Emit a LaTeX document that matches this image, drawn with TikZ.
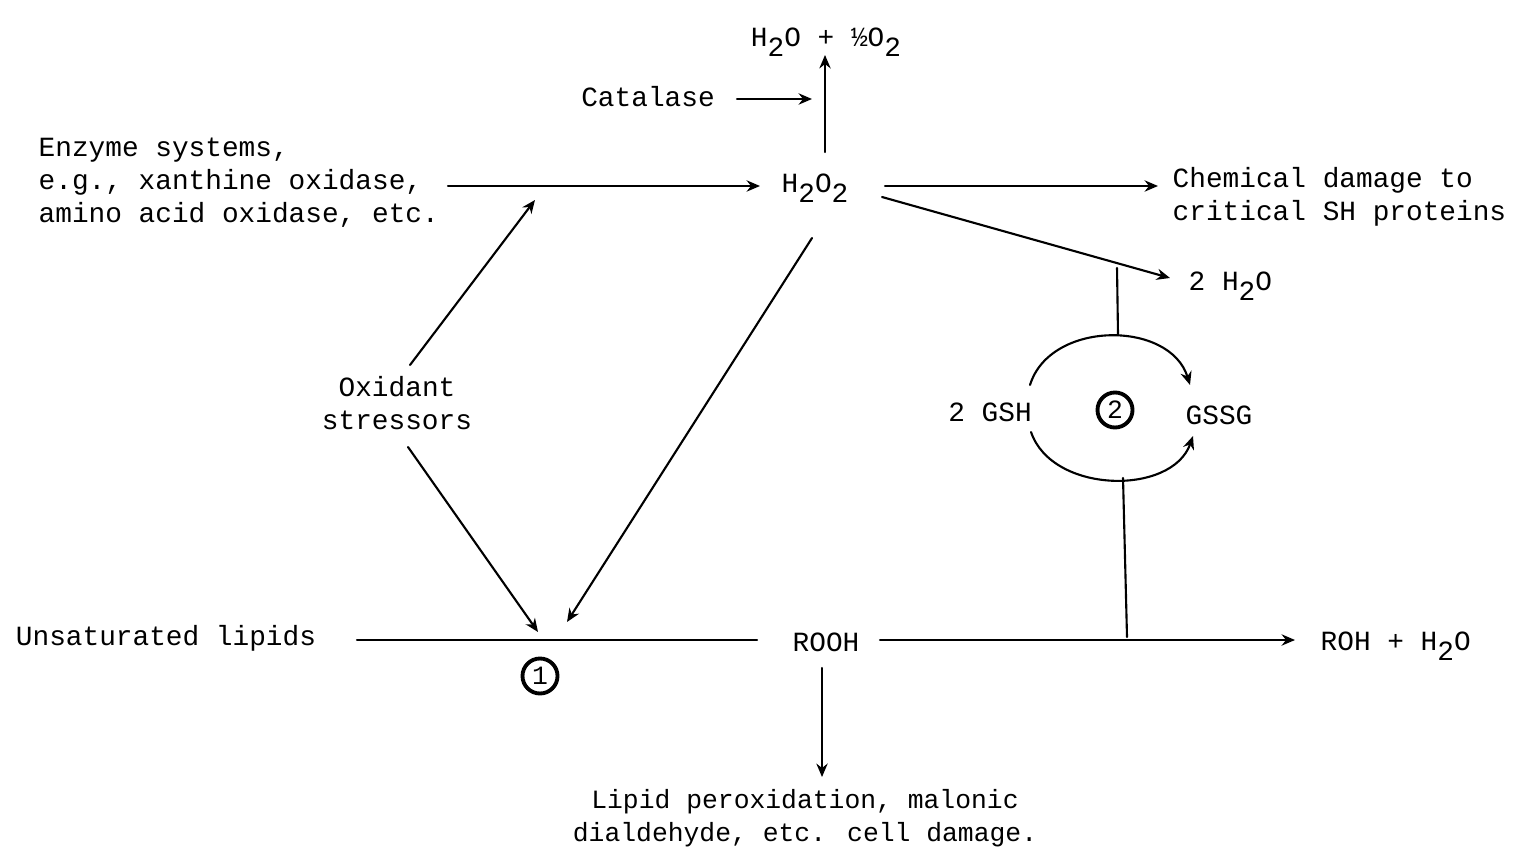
\documentclass[tikz,border=0pt]{standalone}
\usepackage{fontspec}
\setmainfont{Liberation Mono}
\usetikzlibrary{arrows.meta}
\newcommand{\dn}[1]{\raisebox{-0.7ex}{#1}}
\tikzset{
  lbl/.style={font=\fontsize{7.9}{9.4}\selectfont, inner sep=0pt, align=center},
  lbll/.style={lbl, align=left},
  ln/.style={line width=0.6pt, line cap=round},
  arr/.style={ln, -{Stealth[length=3.8pt,width=3.2pt]}},
  numc/.style={circle, draw, line width=1.1pt, minimum size=0.35cm, inner sep=0pt, font=\fontsize{7.5}{8}\selectfont}
}
\begin{document}
\begin{tikzpicture}[x=0.01cm,y=-0.01cm]
\useasboundingbox (0,0) rectangle (1516,852);
% text nodes
\node[lbl] (top) at (826,42) {H\dn{2}O + ½O\dn{2}};
\node[lbl] (cat) at (648,97) {Catalase};
\node[lbll, anchor=west] (enz) at (38,183) {Enzyme systems,\\e.g., xanthine oxidase,\\amino acid oxidase, etc.};
\node[lbl] (h2o2) at (815,188) {H\dn{2}O\dn{2}};
\node[lbll, anchor=west] (chem) at (1172,197) {Chemical damage to\\critical SH proteins};
\node[lbl, anchor=west] (twoh2o) at (1188,286) {2 H\dn{2}O};
\node[lbl] (ox) at (397,403) {Oxidant\\stressors};
\node[lbl] (gsh) at (990,412) {2 GSH};
\node[numc] (c2) at (1115,410) {2};
\node[lbl] (gssg) at (1219,415) {GSSG};
\node[lbl] (lip) at (166,638) {Unsaturated lipids};
\node[numc] (c1) at (540,676) {1};
\node[lbl] (rooh) at (826,642) {ROOH};
\node[lbl, anchor=west] (roh) at (1320,646) {ROH + H\dn{2}O};
\node[lbl, font=\fontsize{7.5}{9.4}\selectfont] (perox) at (805,818) {Lipid peroxidation, malonic\\dialdehyde, etc. cell damage.};
% connector end points
\coordinate (catS) at (737,99);
\coordinate (catE) at (812,99);
\coordinate (upS) at (825,152);
\coordinate (upE) at (825,55);
\coordinate (enzS) at (448,186);
\coordinate (enzE) at (760,186);
\coordinate (chS) at (885,186);
\coordinate (chE) at (1158,186);
\coordinate (dgS) at (882,197);
\coordinate (dgE) at (1170,278);
\coordinate (vt1) at (1117,268);
\coordinate (arcT) at (1118,335);
\coordinate (arcB) at (1123,478);
\coordinate (vb2) at (1127,637);
\coordinate (gshT) at (1030,385);
\coordinate (gssgT) at (1190,385);
\coordinate (gshB) at (1031,432);
\coordinate (gssgB) at (1193,436);
\coordinate (oxT) at (410,365);
\coordinate (enzMid) at (535,200);
\coordinate (oxB) at (408,447);
\coordinate (lineA) at (538,632);
\coordinate (hdS) at (812,238);
\coordinate (lineB) at (567,622);
\coordinate (lipS) at (357,640);
\coordinate (lipE) at (757,640);
\coordinate (rS) at (880,640);
\coordinate (rE) at (1295,640);
\coordinate (dS) at (822,668);
\coordinate (dE) at (822,777);
% connectors
\draw[arr] (catS) -- (catE);
\draw[arr] (upS) -- (upE);
\draw[arr] (enzS) -- (enzE);
\draw[arr] (chS) -- (chE);
\draw[arr] (dgS) -- (dgE);
\draw[ln] (vt1) -- (arcT);
\draw[arr] (gshT) .. controls (1050,320) and (1170,320) .. (gssgT);
\draw[arr] (gshB) .. controls (1052,494) and (1172,496) .. (gssgB);
\draw[ln] (arcB) -- (vb2);
\draw[arr] (oxT) -- (enzMid);
\draw[arr] (oxB) -- (lineA);
\draw[arr] (hdS) -- (lineB);
\draw[ln] (lipS) -- (lipE);
\draw[arr] (rS) -- (rE);
\draw[arr] (dS) -- (dE);
\end{tikzpicture}
\end{document}
